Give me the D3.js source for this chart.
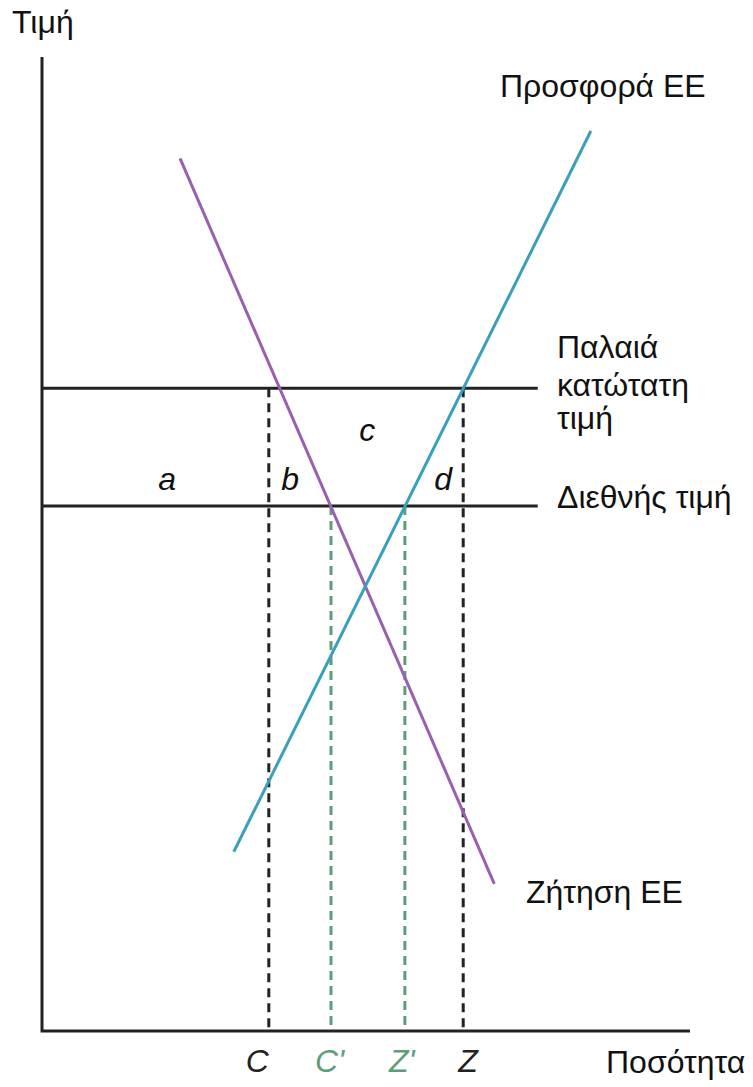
<!DOCTYPE html>
<html>
<head>
<meta charset="utf-8">
<script src="https://cdn.jsdelivr.net/npm/d3@7"></script>
<style>
  body { margin: 0; background: #fff; }
  text { font-family: "Liberation Sans", Arial, sans-serif; }
</style>
</head>
<body>
<div id="chart"></div>
<script>
const width = 753;
const height = 1087;

// curves, in quantity / price units (0..100 on both axes)
const demand = [{x: 21.3, y: 89.6}, {x: 69.8, y: 15.1}];
const supply = [{x: 29.6, y: 18.4}, {x: 84.7, y: 92.4}];

// price levels
const prices = [
  {name: 'old', y: 66.0},
  {name: 'world', y: 53.9}
];
const priceLineEnd = 76.5;

// quantities marked on the x axis
const quantities = [
  {label: 'C', x: 35.0, top: 66.0, color: '#222'},
  {label: "C'", x: 44.6, top: 53.9, color: '#5c9e78'},
  {label: "Z'", x: 56.0, top: 53.9, color: '#5c9e78'},
  {label: 'Z', x: 65.0, top: 66.0, color: '#222'}
];

// area letters
const areas = [
  {label: 'a', x: 19.3, y: 55.5},
  {label: 'b', x: 38.3, y: 55.5},
  {label: 'c', x: 50.2, y: 60.6},
  {label: 'd', x: 61.9, y: 55.5}
];

// where each quantity letter starts, relative to its dashed line (px)
const qLabelShift = {"C": -23, "C'": -16, "Z'": -16, "Z": -5};

const x = d3.scaleLinear().domain([0, 100]).range([42, 690]);
const y = d3.scaleLinear().domain([0, 100]).range([1031, 57]);

const line = d3.line().x(d => x(d.x)).y(d => y(d.y));

const svg = d3.select('#chart')
  .append('svg')
    .attr('width', width)
    .attr('height', height);

// axes, plain lines without ticks
svg.append('path')
  .attr('d', line([{x: 0, y: 100}, {x: 0, y: 0}, {x: 100, y: 0}]))
  .attr('fill', 'none')
  .attr('stroke', '#222')
  .attr('stroke-width', 3);

// dashed quantity lines
svg.selectAll('.qline')
  .data(quantities)
  .enter()
    .append('line')
    .attr('class', 'qline')
    .attr('x1', d => x(d.x))
    .attr('x2', d => x(d.x))
    .attr('y1', d => y(d.top))
    .attr('y2', y(0))
    .attr('stroke', d => d.color)
    .attr('stroke-width', 3)
    .attr('stroke-dasharray', '9,6');

// price lines
svg.selectAll('.pline')
  .data(prices)
  .enter()
    .append('line')
    .attr('class', 'pline')
    .attr('x1', x(0))
    .attr('x2', x(priceLineEnd))
    .attr('y1', d => y(d.y))
    .attr('y2', d => y(d.y))
    .attr('stroke', '#222')
    .attr('stroke-width', 3);

svg.append('path')
  .attr('d', line(demand))
  .attr('stroke', '#9b5fb0')
  .attr('stroke-width', 3)
  .attr('fill', 'none');

svg.append('path')
  .attr('d', line(supply))
  .attr('stroke', '#3a9fbd')
  .attr('stroke-width', 3)
  .attr('fill', 'none');

const fs = 32;

const label = (txt, px, py, opts = {}) =>
  svg.append('text')
    .attr('x', px)
    .attr('y', py)
    .attr('font-size', opts.size || fs)
    .attr('font-style', opts.italic ? 'italic' : 'normal')
    .attr('text-anchor', opts.anchor || 'start')
    .attr('fill', opts.color || '#111')
    .text(txt);

label('Τιμή', 12, 33);
label('Ποσότητα', 606, 1073);
label('Προσφορά ΕΕ', 500, 97);
label('Παλαιά', 557, 358);
label('κατώτατη', 557, 396);
label('τιμή', 557, 429);
label('Διεθνής τιμή', 557, 508);
label('Ζήτηση ΕΕ', 526, 903);

areas.forEach(d => label(d.label, x(d.x), y(d.y), {italic: true, anchor: 'middle'}));

quantities.forEach(d =>
  label(d.label, x(d.x) + qLabelShift[d.label], 1072, {italic: true, color: d.color}));
</script>
</body>
</html>
